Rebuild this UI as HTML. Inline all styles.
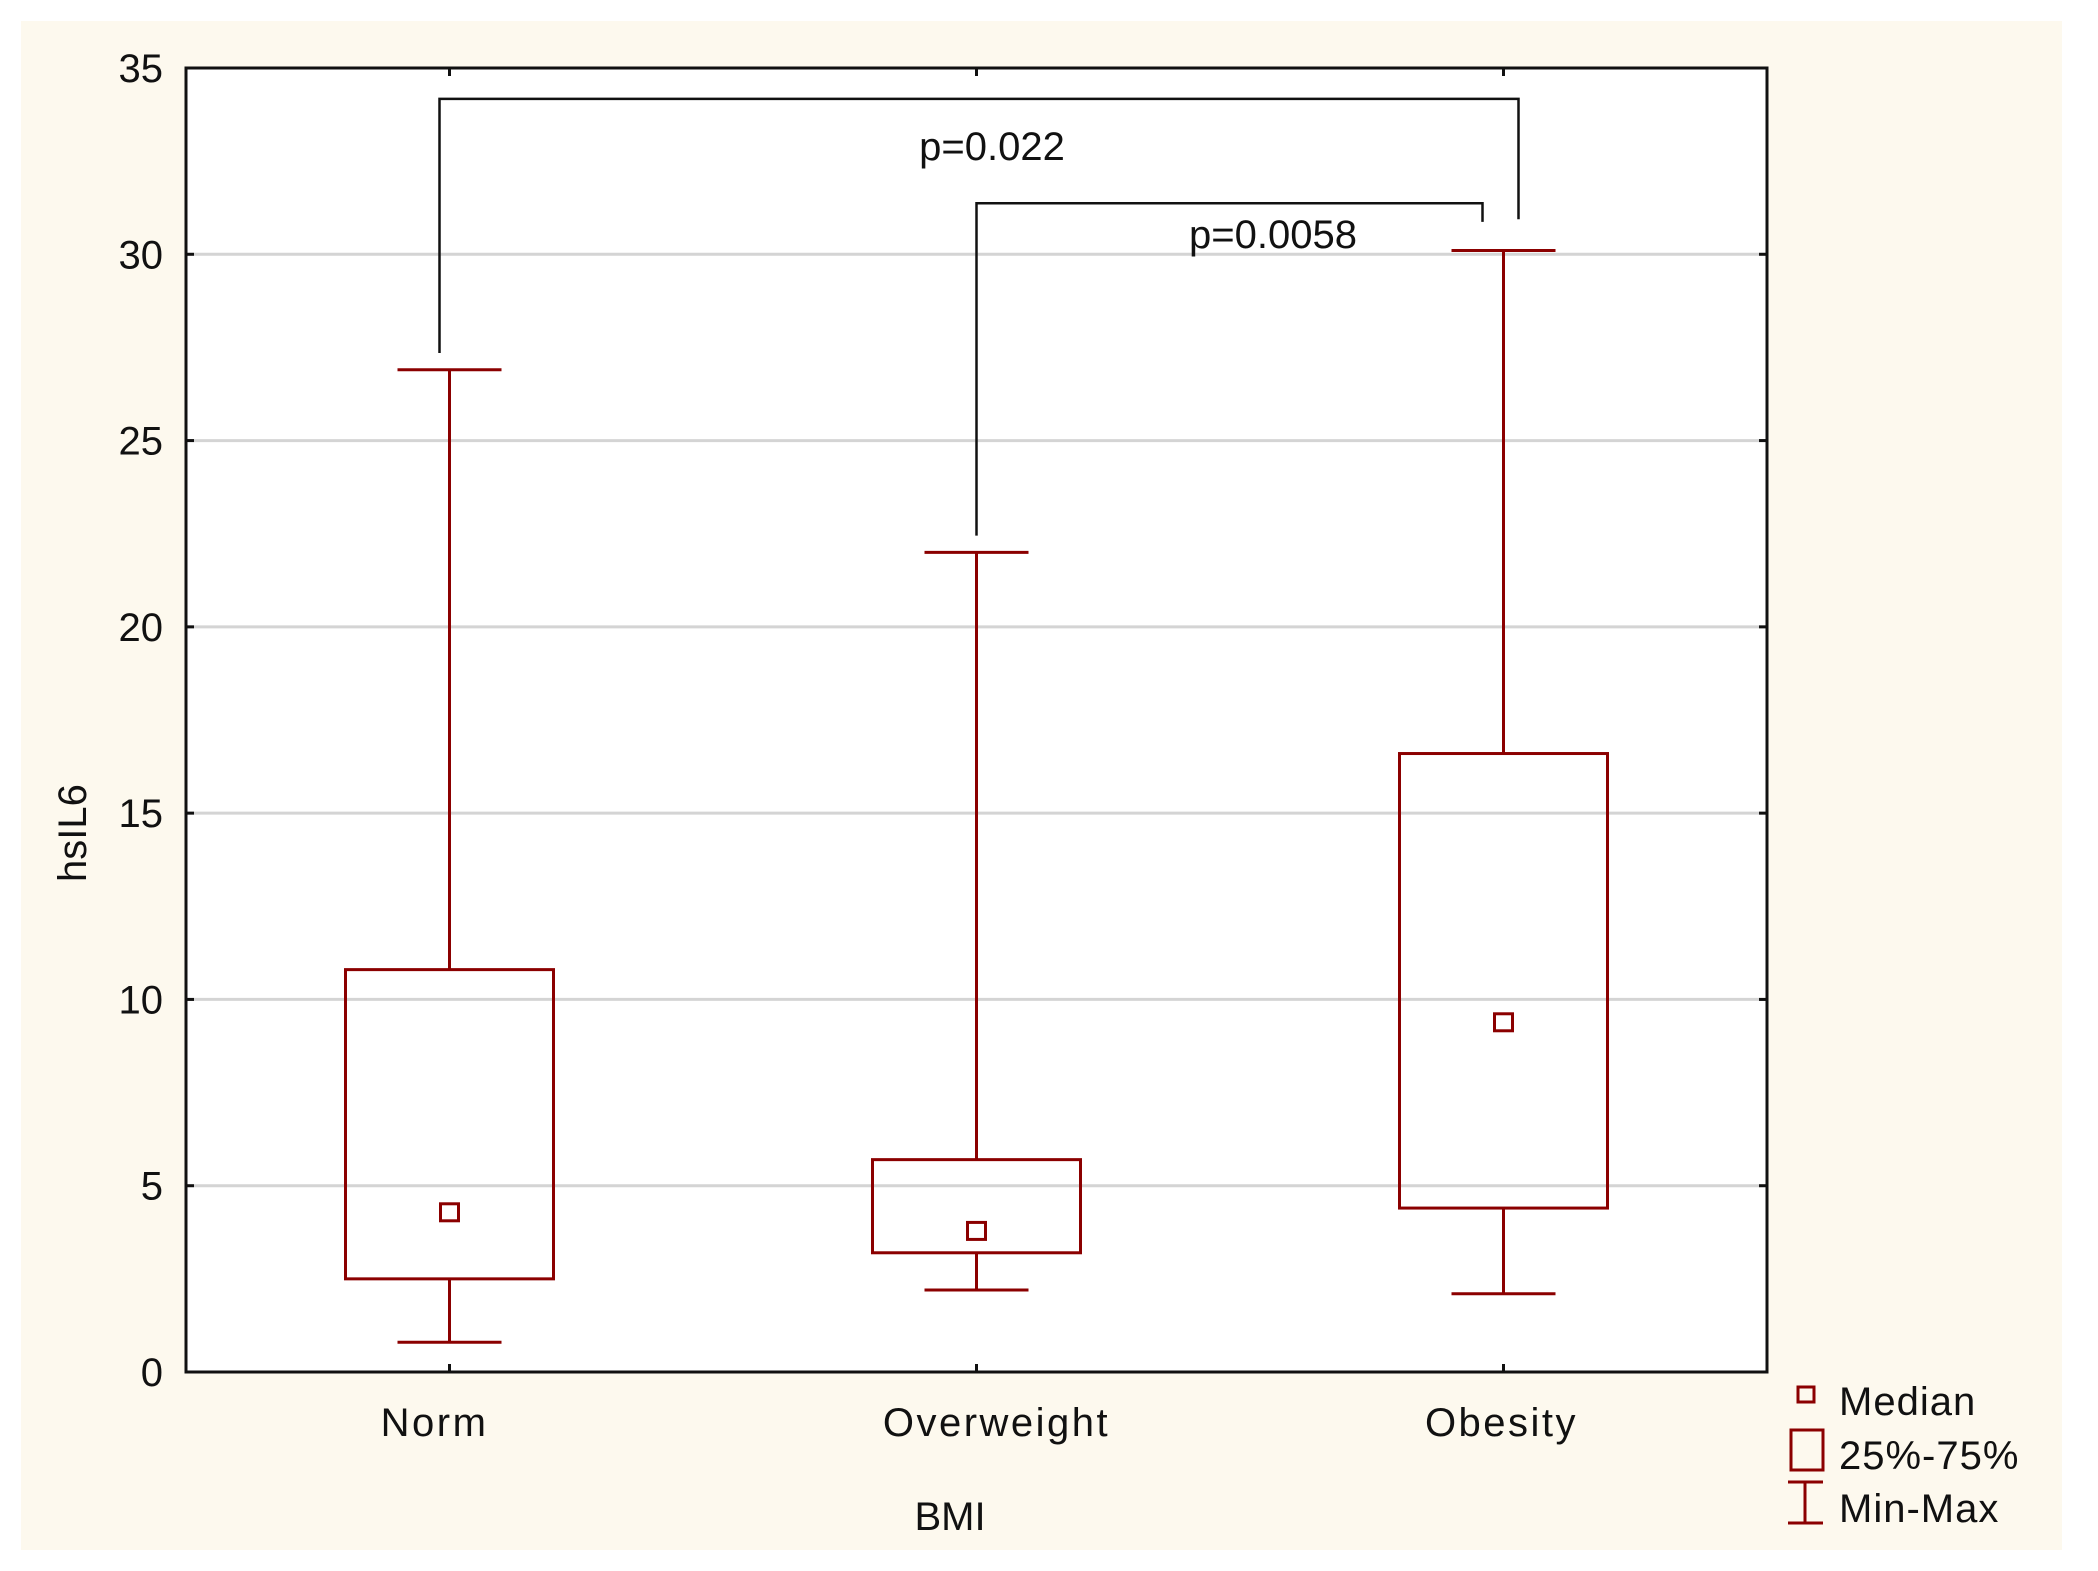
<!DOCTYPE html>
<html><head><meta charset="utf-8"><style>
html,body{margin:0;padding:0;background:#fff;}
svg{display:block;}
text{font-family:"Liberation Sans",sans-serif;fill:#111;}
</style></head><body>
<svg id="chart" width="2098" height="1571">
<rect x="21" y="21" width="2041" height="1529" fill="#fdf9ee"/>
<rect x="186" y="68" width="1581" height="1304" fill="#fff"/>
<g id="grid"></g>
<g id="marks"></g>
<rect x="186" y="68" width="1581" height="1304" fill="none" stroke="#111" stroke-width="3"/>
<g id="axes"></g>
<text x="72" y="833" font-size="40" text-anchor="middle" transform="rotate(-90 72 833)" dy="14">hsIL6</text>
<text x="950" y="1530" font-size="40" text-anchor="middle">BMI</text>
<g>
<rect x="1798" y="1387" width="16" height="15" fill="none" stroke="#8b0000" stroke-width="3"/>
<text x="1839" y="1415" font-size="40" letter-spacing="1">Median</text>
<rect x="1791" y="1430" width="32" height="40" fill="none" stroke="#8b0000" stroke-width="3"/>
<text x="1839" y="1469" font-size="40" letter-spacing="1">25%-75%</text>
<path d="M1788 1482H1823M1805 1482V1523M1788 1523H1823" stroke="#8b0000" stroke-width="3" fill="none"/>
<text x="1839" y="1522" font-size="40" letter-spacing="1">Min-Max</text>
</g>
</svg>
<script>
const categories = ["Norm","Overweight","Obesity"];
const mins = [0.8, 2.2, 2.1];
const q1s = [2.5, 3.2, 4.4];
const medians = [4.3, 3.8, 9.4];
const q3s = [10.8, 5.7, 16.6];
const maxs = [26.9, 22.0, 30.1];
const yTicks = [0,5,10,15,20,25,30,35];
const bracketFrom = [0, 1];
const bracketTo = [2, 2];
const bracketTop = [34.17, 31.37];
const bracketLeftEnd = [27.35, 22.45];
const bracketRightEnd = [30.94, 30.87];
const bracketLabels = ["p=0.022", "p=0.0058"];
const NS="http://www.w3.org/2000/svg";
const L=186,R=1767,T=68,B=1372;
const y=v=>B-(v/35)*(B-T);
const xc=i=>L+(R-L)*(2*i+1)/(2*categories.length);
function mk(tag,attrs,parent){const e=document.createElementNS(NS,tag);for(const k in attrs)e.setAttribute(k,attrs[k]);parent.appendChild(e);return e;}
const grid=document.getElementById('grid'),marks=document.getElementById('marks'),axes=document.getElementById('axes');
yTicks.forEach(t=>{
  if(t>0&&t<35){const g=mk('line',{x1:L,x2:R,y1:y(t),y2:y(t),stroke:'#d4d4d4','stroke-width':3},grid);
  
  }
  const tk=mk('line',{x1:L,x2:L+8,y1:y(t),y2:y(t),stroke:'#111','stroke-width':3},axes);
  
  
  const tr=mk('line',{x1:R-8,x2:R,y1:y(t),y2:y(t),stroke:'#111','stroke-width':3},axes);
  
  
  const tx=mk('text',{x:163,y:y(t)+14,'font-size':40,'text-anchor':'end'},axes);
  tx.textContent=t;
  
  
});
const labelOff=[-15,20,-2];
categories.forEach((c,i)=>{
  const cx=xc(i),col='#8b0000';
  const g=mk('g',{},marks);
  
  
  mk('path',{d:`M${cx-52} ${y(maxs[i])}H${cx+52}M${cx} ${y(maxs[i])}V${y(q3s[i])}M${cx} ${y(q1s[i])}V${y(mins[i])}M${cx-52} ${y(mins[i])}H${cx+52}`,stroke:col,'stroke-width':3,fill:'none'},g);
  mk('rect',{x:cx-104,y:y(q3s[i]),width:208,height:y(q1s[i])-y(q3s[i]),fill:'none',stroke:col,'stroke-width':3},g);
  mk('rect',{x:cx-9,y:y(medians[i])-8,width:18,height:17,fill:'none',stroke:col,'stroke-width':3},g);
  const tk=mk('line',{x1:cx,x2:cx,y1:B,y2:B-8,stroke:'#111','stroke-width':3},axes);
  
  
  const tkt=mk('line',{x1:cx,x2:cx,y1:T,y2:T+8,stroke:'#111','stroke-width':3},axes);
  
  
  const lb=mk('text',{x:cx+labelOff[i],y:1436,'font-size':40,'letter-spacing':2.5,'text-anchor':'middle'},axes);
  lb.textContent=c;
  
  
});
const bxOff=[[-10,15],[0,-21]];
const lblPos=[[992,160],[1273,248]];
bracketLabels.forEach((lab,k)=>{
  const x1=xc(bracketFrom[k])+bxOff[k][0],x2=xc(bracketTo[k])+bxOff[k][1];
  const p=mk('path',{d:`M${x1} ${y(bracketLeftEnd[k])}V${y(bracketTop[k])}H${x2}V${y(bracketRightEnd[k])}`,stroke:'#111','stroke-width':2.5,fill:'none'},marks);
  
  
  const t=mk('text',{x:lblPos[k][0],y:lblPos[k][1],'font-size':40,'text-anchor':'middle'},marks);
  t.textContent=lab;
  
  
});
</script>
</body></html>
